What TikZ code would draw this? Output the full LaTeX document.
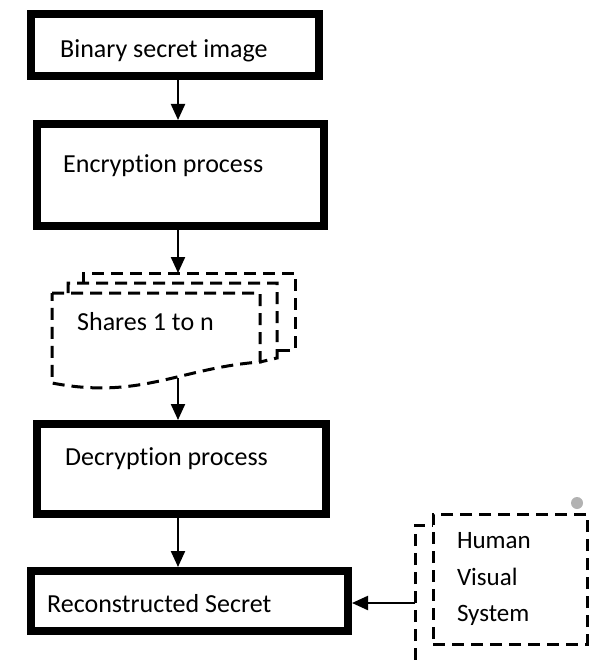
\documentclass[tikz,border=0pt]{standalone}
\usepackage{fontspec}
\setmainfont{Carlito}[Ligatures={NoCommon}]
\usetikzlibrary{arrows.meta}

\tikzset{
  procbox/.style={draw, rectangle, line width=8pt, inner sep=0pt},
  boxtext/.style={anchor=base west, inner sep=0pt, font=\fontsize{26}{30}\selectfont},
  arr/.style={line width=2.2pt, -{Triangle[length=16pt,width=14pt]}},
  dashline/.style={line width=3pt, dash pattern=on 12pt off 7pt},
}

\begin{document}
\begin{tikzpicture}[x=1pt,y=-1pt]
	\useasboundingbox (0,0) rectangle (595,660);
	% main column
	\coordinate (col) at (178,0);
	\node[procbox, minimum width=288pt, minimum height=62pt] (bin) at (175,45) {};
	\node[boxtext] (bintxt) at (60,58) {Binary secret image};
	\node[procbox, minimum width=287pt, minimum height=102pt] (enc) at (180.5,175) {};
	\node[boxtext] (enctxt) at (63,173) {Encryption process};
	% shares (stacked documents)
	\draw[dashline] (83,283) -- (83,273) -- (295,273) -- (295,350) -- (277,350);
	\draw[dashline] (68,293) -- (68,283) -- (277,283) -- (277,358) -- (260,362);
	\draw[dashline] (52,293) -- (260,293) -- (260,362)
		.. controls (180,368) and (140,400) .. (52,383) -- cycle;
	\node[boxtext] (shr) at (77,330) {Shares 1 to n};
	\coordinate (shrtop) at (178,273);
	\coordinate (shrbot) at (178,378);
	\node[procbox, minimum width=289pt, minimum height=90pt] (dec) at (181.5,469) {};
	\node[boxtext] (dectxt) at (65,465) {Decryption process};
	\node[procbox, minimum width=317pt, minimum height=60pt] (rec) at (189.5,601) {};
	\node[boxtext] (rectxt) at (47,612) {Reconstructed Secret};
	% human visual system
	\node[dashline, draw, rectangle, minimum width=154pt, minimum height=130pt, inner sep=0pt,
		text width=106pt, align=left, font=\fontsize{25}{36.5}\selectfont] (hvs) at (510,579)
		{Human\\Visual\\System};
	\draw[dashline] (415,660) -- (415,525) -- (433,525);
	\fill[gray!60] (577,503) circle (6pt);
	\coordinate (hvsl) at (415,603);
	% arrows
	\draw[arr] (bin.south -| col) -- (enc.north -| col);
	\draw[arr] (enc.south -| col) -- (shrtop);
	\draw[arr] (shrbot) -- (dec.north -| col);
	\draw[arr] (dec.south -| col) -- (rec.north -| col);
	\draw[arr] (hvsl) -- (hvsl -| rec.east);
\end{tikzpicture}
\end{document}
